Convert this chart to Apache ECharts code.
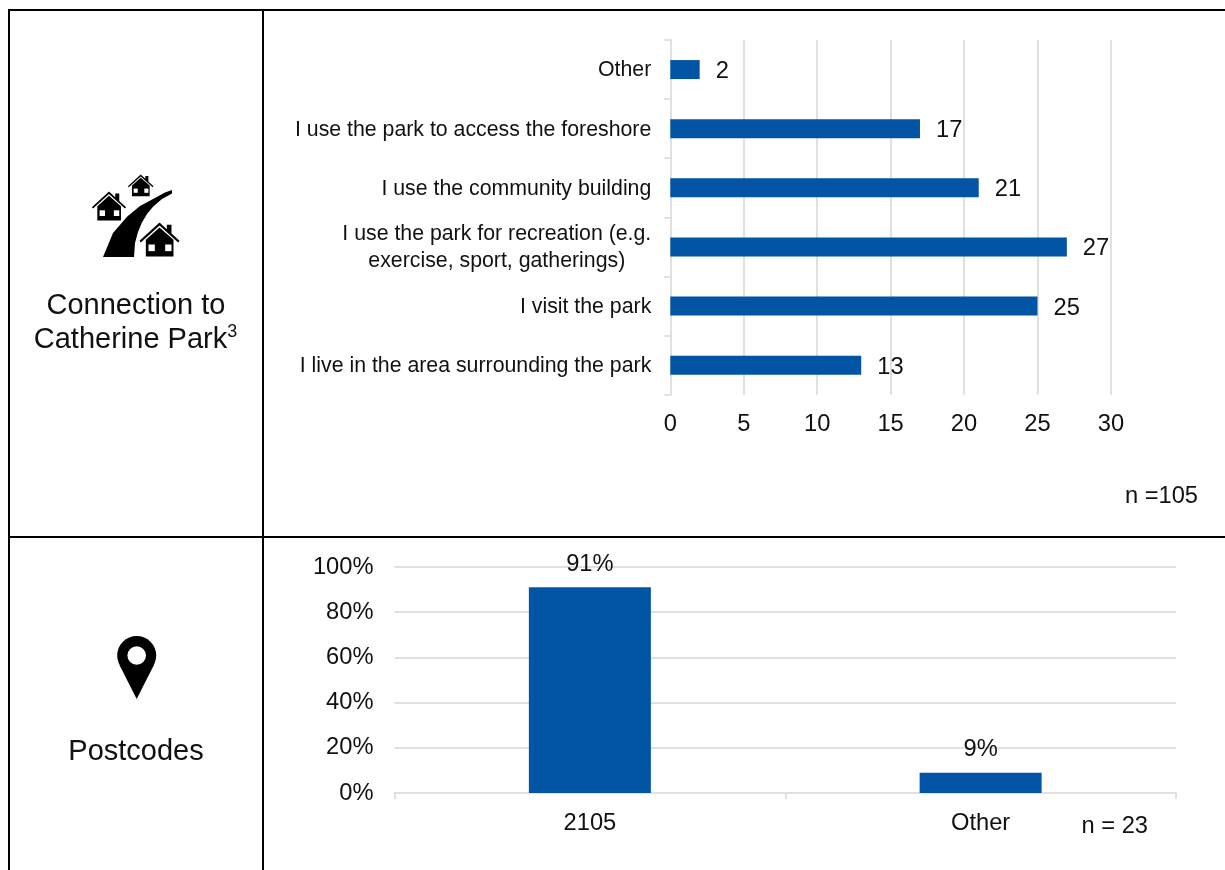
<!DOCTYPE html>
<html>
<head>
<meta charset="utf-8">
<title>Catherine Park survey respondents</title>
<style>
  html, body { margin: 0; padding: 0; background: #ffffff; }
  #chart { width: 1225px; height: 870px; }
</style>
<script src="https://cdn.jsdelivr.net/npm/echarts@6/dist/echarts.min.js"></script>
</head>
<body>
<div id="chart"></div>
<script>
// Connection to Catherine Park (top to bottom)
const connectionCategories = [
  'Other',
  'I use the park to access the foreshore',
  'I use the community building',
  'I use the park for recreation (e.g.\nexercise, sport, gatherings)',
  'I visit the park',
  'I live in the area surrounding the park'
];
const connectionValues = [2, 17, 21, 27, 25, 13];
const connectionTicks = { min: 0, max: 30, interval: 5 };

// Postcodes
const postcodeCategories = ['2105', 'Other'];
const postcodeValues = [91, 9];
const postcodeTicks = { min: 0, max: 100, interval: 20 };

const FONT = '"Liberation Sans", Arial, sans-serif';
const BLUE = '#0254A5';
const GRID_GRAY = '#E0E0E0';
const INK = '#111111';
const NUM_SIZE = 23.7;
const CAT_SIZE = 21.3;
const HEAD_SIZE = 29;

// Small house pictogram: apex at the origin, drawn 120 wide and 102 tall.
function house(x, y, scale) {
  return {
    type: 'group', x: x, y: y, scaleX: scale, scaleY: scale, silent: true,
    children: [
      { type: 'polygon', shape: { points: [[0, 0], [22, 20], [22, 7], [36, 7], [36, 33], [60, 55], [56, 60], [0, 9], [-56, 60], [-60, 55]] }, style: { fill: '#000' } },
      { type: 'polygon', shape: { points: [[0, 15], [42, 52], [42, 102], [-41, 102], [-41, 52]] }, style: { fill: '#000' } },
      { type: 'rect', shape: { x: -33, y: 66, width: 19, height: 20 }, style: { fill: '#fff' } },
      { type: 'rect', shape: { x: 17, y: 66, width: 19, height: 20 }, style: { fill: '#fff' } }
    ]
  };
}

function line(x1, y1, x2, y2) {
  return {
    type: 'line', silent: true,
    shape: { x1: x1, y1: y1, x2: x2, y2: y2 },
    style: { stroke: '#000', lineWidth: 2 }
  };
}

function caption(text, x, y, size, align, rich) {
  return {
    type: 'text', silent: true, x: x, y: y,
    style: {
      text: text, fill: INK, font: size + 'px ' + FONT,
      align: align, verticalAlign: 'middle', rich: rich
    }
  };
}

const categoryLabelRich = {
  c: { width: 309, align: 'center', lineHeight: 27, fontSize: CAT_SIZE, fontFamily: FONT, color: INK }
};

const option = {
  animation: false,
  backgroundColor: '#ffffff',
  textStyle: { fontFamily: FONT },
  grid: [
    { left: 670.3, top: 40, width: 440.6, height: 354.7, containLabel: false },
    { left: 394.5, top: 567, width: 781.5, height: 226, containLabel: false }
  ],
  xAxis: [
    {
      gridIndex: 0, type: 'value', position: 'bottom',
      min: connectionTicks.min, max: connectionTicks.max, interval: connectionTicks.interval,
      axisLine: { show: false }, axisTick: { show: false },
      axisLabel: { margin: 18, fontSize: NUM_SIZE, color: INK, fontFamily: FONT },
      splitLine: { show: true, lineStyle: { color: GRID_GRAY, width: 2 } }
    },
    {
      gridIndex: 1, type: 'category', data: postcodeCategories,
      axisLine: { show: true, lineStyle: { color: GRID_GRAY, width: 2 } },
      axisTick: { show: true, length: 6, alignWithLabel: false, lineStyle: { color: GRID_GRAY, width: 2 } },
      axisLabel: { margin: 18, fontSize: NUM_SIZE, color: INK, fontFamily: FONT }
    }
  ],
  yAxis: [
    {
      gridIndex: 0, type: 'category', inverse: true, data: connectionCategories,
      axisLine: { show: true, lineStyle: { color: GRID_GRAY, width: 2 } },
      axisTick: { show: true, length: 6, lineStyle: { color: GRID_GRAY, width: 2 } },
      axisLabel: {
        interval: 0, margin: 19, fontSize: CAT_SIZE, color: INK, fontFamily: FONT,
        padding: [2, 0, 0, 0], rich: categoryLabelRich,
        formatter: function (name) {
          return name.indexOf('\n') < 0
            ? name
            : name.split('\n').map(function (part) { return '{c|' + part + '}'; }).join('\n');
        }
      }
    },
    {
      gridIndex: 1, type: 'value',
      min: postcodeTicks.min, max: postcodeTicks.max, interval: postcodeTicks.interval,
      axisLine: { show: false }, axisTick: { show: false },
      axisLabel: { margin: 21, fontSize: NUM_SIZE, color: INK, fontFamily: FONT, padding: [5, 0, 0, 0], formatter: '{value}%' },
      splitLine: { show: true, lineStyle: { color: GRID_GRAY, width: 2 } }
    }
  ],
  series: [
    {
      type: 'bar', xAxisIndex: 0, yAxisIndex: 0, data: connectionValues, barWidth: 19,
      itemStyle: { color: BLUE },
      label: { show: true, position: 'right', distance: 16, offset: [0, 2], fontSize: NUM_SIZE, color: INK, fontFamily: FONT }
    },
    {
      type: 'bar', xAxisIndex: 1, yAxisIndex: 1, data: postcodeValues, barWidth: 122,
      itemStyle: { color: BLUE },
      label: { show: true, position: 'top', distance: 11, fontSize: NUM_SIZE, color: INK, fontFamily: FONT, formatter: '{c}%' }
    }
  ],
  graphic: [
    // Table rules
    line(9, 10, 1225, 10),
    line(9, 9, 9, 870),
    line(263, 10, 263, 870),
    line(9, 537, 1225, 537),

    // Road and houses
    {
      type: 'polygon', silent: true,
      shape: {
        points: [[172, 190], [165, 192.5], [153, 199], [140, 206], [127, 216.7], [113, 233], [103, 257],
                 [134, 257], [135, 243], [138, 232], [141.7, 223], [147, 214], [153, 206.7], [162, 199], [172, 193.5]]
      },
      style: { fill: '#000' }
    },
    house(159.5, 222.5, 0.333),
    house(109, 191.5, 0.285),
    house(140.7, 174.5, 0.213),
    caption('Connection to', 136, 306, HEAD_SIZE, 'center'),
    caption('{a|Catherine Park}{s|3}', 135.5, 340, HEAD_SIZE, 'center', {
      a: { fontSize: HEAD_SIZE, fontFamily: FONT, color: INK, lineHeight: 34 },
      s: { fontSize: 18, fontFamily: FONT, color: INK, lineHeight: 34, verticalAlign: 'top' }
    }),

    // Location pin
    {
      type: 'circle', silent: true,
      shape: { cx: 136.7, cy: 655.5, r: 19.5 },
      style: { fill: '#000' }
    },
    {
      type: 'polygon', silent: true,
      shape: { points: [[136.7, 699], [119.5, 665], [153.9, 665]] },
      style: { fill: '#000' }
    },
    {
      type: 'circle', silent: true,
      shape: { cx: 136.7, cy: 655.5, r: 9.3 },
      style: { fill: '#fff' }
    },
    caption('Postcodes', 136, 752, HEAD_SIZE, 'center'),

    // Sample sizes
    caption('n =105', 1198, 496, NUM_SIZE, 'right'),
    caption('n = 23', 1148, 826, NUM_SIZE, 'right')
  ]
};

const chart = echarts.init(document.getElementById('chart'), null, { renderer: 'canvas' });
chart.setOption(option);
</script>
</body>
</html>
